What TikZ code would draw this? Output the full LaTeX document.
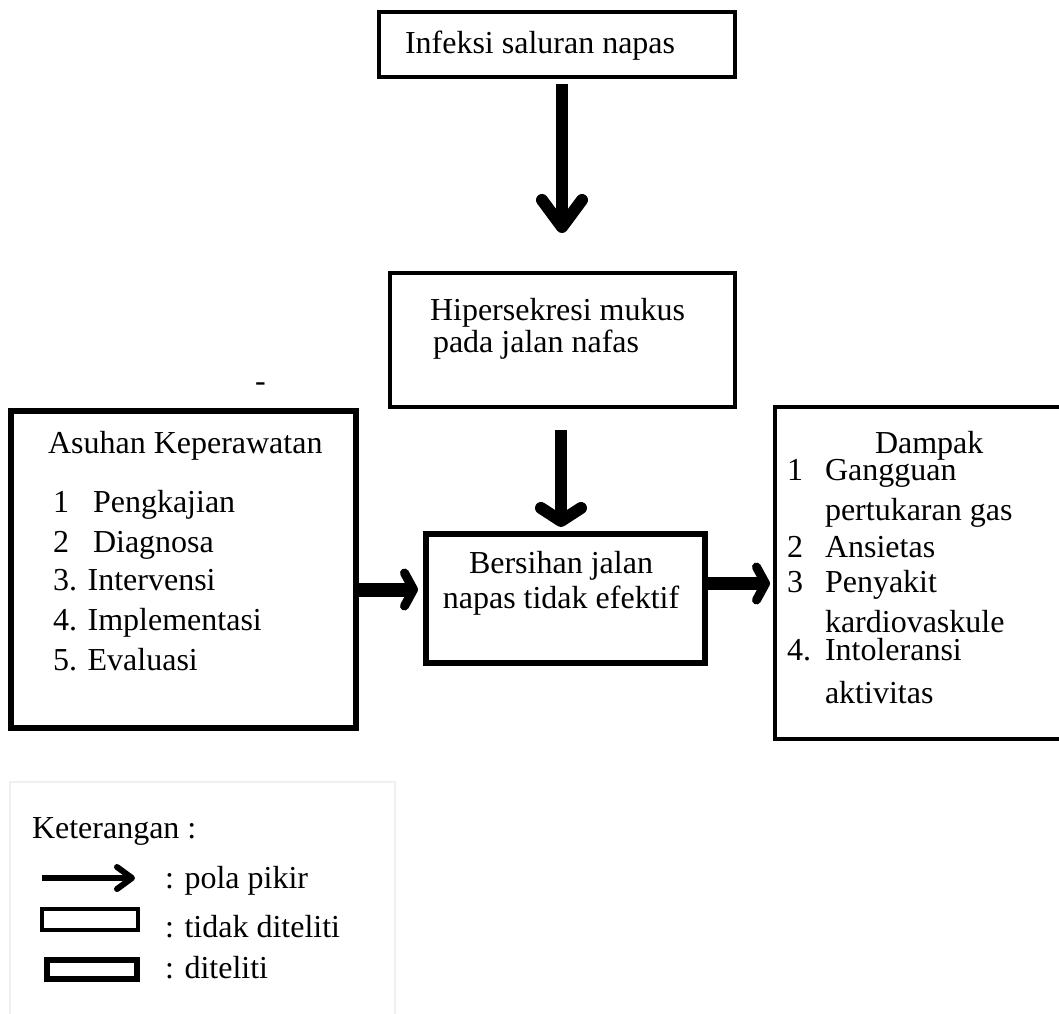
\documentclass[tikz,border=0pt]{standalone}
\usepackage{fontspec}
\setmainfont{Liberation Serif}
\usetikzlibrary{arrows.meta}
\begin{document}
\begin{tikzpicture}[x=1pt,y=-1pt,
  boxthin/.style={draw,line width=4pt,rectangle,inner sep=0pt,outer sep=0pt},
  boxthick/.style={draw,line width=6pt,rectangle,inner sep=0pt,outer sep=0pt},
  txt/.style={anchor=base west,inner sep=0pt,outer sep=0pt,font=\fontsize{32}{38}\selectfont},
  ctxt/.style={anchor=base,inner sep=0pt,outer sep=0pt,font=\fontsize{32}{38}\selectfont},
  arrv1/.style={line width=12pt,-{Straight Barb[length=27pt,width=40pt,line width=12pt,round]}},
  arrv2/.style={line width=12pt,-{Straight Barb[length=13pt,width=40pt,line width=12pt,round]}},
  arrh/.style={line width=14pt,-{Straight Barb[length=9pt,width=33pt,line width=9pt,round]}},
  arrlg/.style={line width=6pt,-{Straight Barb[length=15pt,width=22pt,line width=6pt,round]}}
]
\useasboundingbox (0,0) rectangle (1059,1013);
\clip (0,0) rectangle (1059,1013);
\fill[white] (0,0) rectangle (1059,1013);

% boxes
\node[boxthin,minimum width=356pt,minimum height=65pt] (top) at (557,44.5) {};
\node[boxthin,minimum width=345pt,minimum height=134pt] (hip) at (562.5,340) {};
\node[boxthick,minimum width=345pt,minimum height=317pt] (asuhan) at (183.5,569.5) {};
\node[boxthick,minimum width=279.5pt,minimum height=129pt] (bersihan) at (565.25,598.5) {};
\node[boxthin,minimum width=300pt,minimum height=332pt] (dampak) at (925,573) {};

% texts
\node[txt] (t1) at (405,53) {Infeksi saluran napas};
\node[txt] (h1) at (430,320) {Hipersekresi mukus};
\node[txt] (h2) at (433,352) {pada jalan nafas};
\node[txt] (dash) at (255,391) {-};

\node[txt] (a0) at (48,453) {Asuhan Keperawatan};
\node[txt] (a1) at (53,512) {\makebox[40pt][l]{1}Pengkajian};
\node[txt] (a2) at (53,552) {\makebox[40pt][l]{2}Diagnosa};
\node[txt] (a3) at (53,590) {3. Intervensi};
\node[txt] (a4) at (53,630) {4. Implementasi};
\node[txt] (a5) at (53,670) {5. Evaluasi};

\node[ctxt] (b1) at (561,573) {Bersihan jalan};
\node[ctxt] (b2) at (561,608) {napas tidak efektif};

\node[txt] (d0) at (875,453) {Dampak};
\node[txt] (d1n) at (787,480) {1};
\node[txt] (d1) at (825,480) {Gangguan};
\node[txt] (d1b) at (825,520) {pertukaran gas};
\node[txt] (d2n) at (787,557) {2};
\node[txt] (d2) at (825,557) {Ansietas};
\node[txt] (d3n) at (787,592) {3};
\node[txt] (d3) at (825,592) {Penyakit};
\node[txt] (d3b) at (825,632) {kardiovaskule};
\node[txt] (d4n) at (787,660) {4.};
\node[txt] (d4) at (825,660) {Intoleransi};
\node[txt] (d4b) at (825,703) {aktivitas};

% connectors
\draw[arrv1] ([xshift=5pt,yshift=-7pt]top.south) -- ([xshift=-0.5pt,yshift=40pt]hip.north);
\draw[arrv2] ([xshift=-1.5pt,yshift=-23pt]hip.south) -- ([xshift=-4.25pt,yshift=7pt]bersihan.north);
\draw[arrh] ([yshift=-20pt]asuhan.east) -- ([xshift=-7.5pt,yshift=9pt]bersihan.west);
\draw[arrh,line width=13pt] ([yshift=15pt]bersihan.east) -- ([xshift=-5pt,yshift=-10.5pt]dampak.west);

% legend
\node[draw=black!6,line width=1.5pt,rectangle,inner sep=0pt,outer sep=0pt,minimum width=385pt,minimum height=248pt] (legend) at (202.5,906) {};
\node[txt] (k0) at (32,838) {Keterangan :};
\coordinate (la1) at (42,878);
\coordinate (la2) at (135,878);
\draw[arrlg] (la1) -- (la2);
\node[txt] (k1) at (165,888) {: pola pikir};
\node[draw,line width=3.5pt,rectangle,inner sep=0pt,outer sep=0pt,minimum width=96pt,minimum height=21pt] (lthin) at (90,919.5) {};
\node[txt] (k2) at (165,937) {: tidak diteliti};
\node[draw,line width=6.5pt,rectangle,inner sep=0pt,outer sep=0pt,minimum width=90pt,minimum height=19pt] (lthick) at (92,969.5) {};
\node[txt] (k3) at (165,978) {: diteliti};
\end{tikzpicture}
\end{document}
